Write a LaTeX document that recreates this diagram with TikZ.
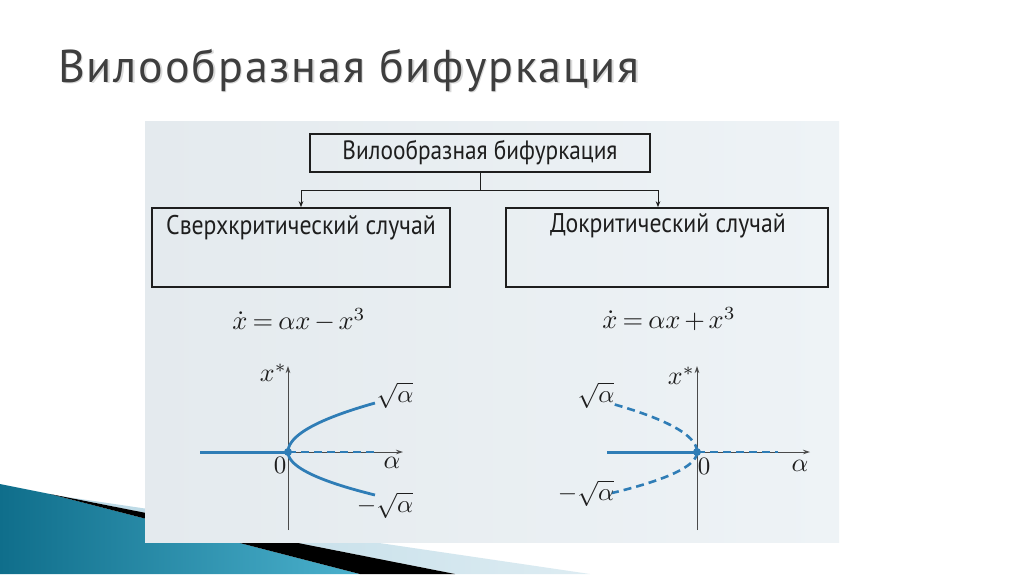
\documentclass[tikz,border=0pt]{standalone}
\usepackage{graphicx}
\usepackage{fontspec}
\setmainfont{PT Sans}
\newfontfamily\condfont[FakeStretch=0.88]{PT Sans}
\newfontfamily\titlefont[FakeStretch=1.0,LetterSpace=4]{PT Sans}
\usetikzlibrary{arrows.meta}
\definecolor{titlecol}{HTML}{3E3E3E}
\definecolor{shadowcol}{HTML}{DADADA}
\definecolor{panelL}{HTML}{E4EAEE}
\definecolor{panelR}{HTML}{EEF3F6}
\definecolor{curvecol}{HTML}{2F7DB6}
\definecolor{axiscol}{HTML}{4A4A4A}
\definecolor{tealA}{HTML}{0F6E8B}
\definecolor{tealB}{HTML}{4BB1CD}
\definecolor{stripA}{HTML}{B9D8E5}
\definecolor{stripB}{HTML}{DDECF2}
\definecolor{inkcol}{HTML}{1E1E1E}
\newcommand{\mathbigger}[2]{\scalebox{#1}{$\medmuskip=2.5mu\thickmuskip=3.5mu #2$}}
\begin{document}
\begin{tikzpicture}[x=1pt,y=-1pt,
  box/.style={draw=inkcol,line width=1.6pt,inner sep=0pt,fill=none},
  boxtext/.style={font=\condfont\fontsize{27}{31}\selectfont,text=inkcol,inner sep=0pt},
  conn/.style={draw=inkcol,line width=0.9pt},
  tip/.style={-{Stealth[length=6pt,width=4.5pt]}},
  axis/.style={draw=axiscol,line width=0.9pt},
  axtip/.style={-{Stealth[length=7pt,width=4.5pt]}},
  solidc/.style={draw=curvecol,line width=3pt},
  dashc/.style={draw=curvecol,line width=2.6pt,dash pattern=on 8pt off 5pt},
  mlabel/.style={text=inkcol,inner sep=0pt},
  eq/.style={text=inkcol,inner sep=0pt}
]
\useasboundingbox (0,0) rectangle (1024,574);
\fill[white] (0,0) rectangle (1024,574);

% bottom-left decoration
\shade[left color=stripA,right color=stripB] (60,496) -- (590,574) -- (455,574) -- cycle;
\shade[left color=tealA,right color=tealB] (0,484) -- (50,494) -- (360,574) -- (0,574) -- cycle;
\fill[black] (50,494) -- (455,574) -- (360,574) -- cycle;

% title
\node[anchor=base west,inner sep=0pt,text=shadowcol,font=\titlefont\fontsize{46}{50}\selectfont] at (59.5,83.5) {Вилообразная бифуркация};
\node[anchor=base west,inner sep=0pt,text=titlecol,font=\titlefont\fontsize{46}{50}\selectfont] (title) at (58,82) {Вилообразная бифуркация};

% panel
\shade[left color=panelL,right color=panelR] (145,121) rectangle (839,542);

% boxes
\node[box,minimum width=340pt,minimum height=38pt,font=\condfont\fontsize{26.5}{30}\selectfont,text=inkcol] (top) at (480,153) {Вилообразная бифуркация};
\node[box,minimum width=298pt,minimum height=79pt] (sup) at (301,247.5) {};
\node[box,minimum width=322pt,minimum height=79pt] (sub) at (667,247.5) {};
\node[boxtext] (suptext) at (301,228) {Сверхкритический случай};
\node[boxtext] (subtext) at (668,226) {Докритический случай};

\coordinate (j) at (480,190);
\draw[conn] (top.south) -- (j);
\draw[conn,tip] (j) -| (sup.north);
\draw[conn,tip] (j) -| ([xshift=-9pt]sub.north);

% equations
\node[eq] (eq1) at (299,320) {\mathbigger{2.65}{\dot{x}=\alpha x-x^3}};
\node[eq] (eq2) at (669,319) {\mathbigger{2.65}{\dot{x}=\alpha x+x^3}};

% left graph
\coordinate (o1) at (288,452);
\coordinate (v1b) at (288,530);
\coordinate (v1t) at (288,366);
\coordinate (h1l) at (200,452);
\coordinate (h1r) at (403,452);
\coordinate (d1e) at (375,452);
\draw[axis,axtip] (v1b) -- (v1t);
\draw[axis,axtip] (o1) -- (h1r);
\draw[dashc] (o1) -- (d1e);
\draw[solidc] (h1l) -- (o1);
\draw[solidc,line width=2.8pt] plot[domain=0:1,samples=40] ({288+87*\x*\x},{452-49*\x});
\draw[solidc,line width=2.8pt] plot[domain=0:1,samples=40] ({288+87*\x*\x},{452+43*\x});
\fill[curvecol] (o1) circle (4);
\node[mlabel,anchor=east] (xs1) at (287,373) {\mathbigger{2.6}{x^{*}}};
\node[mlabel] (z1) at (280,465) {\mathbigger{2.5}{0}};
\node[mlabel] (a1) at (392,463) {\mathbigger{2.6}{\alpha}};
\node[mlabel] (p1) at (395,395) {\mathbigger{2.5}{\sqrt{\alpha}}};
\node[mlabel] (m1) at (385,505) {\mathbigger{2.5}{-\sqrt{\alpha}}};

% right graph
\coordinate (o2) at (697,452);
\coordinate (v2b) at (697,530);
\coordinate (v2t) at (697,366);
\coordinate (h2l) at (607,452);
\coordinate (h2r) at (810,452);
\coordinate (d2e) at (778,452);
\draw[axis,axtip] (v2b) -- (v2t);
\draw[axis,axtip] (o2) -- (h2r);
\draw[dashc] (o2) -- (d2e);
\draw[solidc] (h2l) -- (o2);
\draw[dashc] plot[domain=0:1,samples=40] ({697-84*\x*\x},{452-48*\x});
\draw[dashc] plot[domain=0:1,samples=40] ({697-85*\x*\x},{452+41*\x});
\fill[curvecol] (o2) circle (4);
\node[mlabel,anchor=east] (xs2) at (695,376) {\mathbigger{2.6}{x^{*}}};
\node[mlabel] (z2) at (704,466) {\mathbigger{2.5}{0}};
\node[mlabel] (a2) at (800,466) {\mathbigger{2.6}{\alpha}};
\node[mlabel] (p2) at (596,395) {\mathbigger{2.5}{\sqrt{\alpha}}};
\node[mlabel] (m2) at (586,493) {\mathbigger{2.5}{-\sqrt{\alpha}}};
\end{tikzpicture}
\end{document}
